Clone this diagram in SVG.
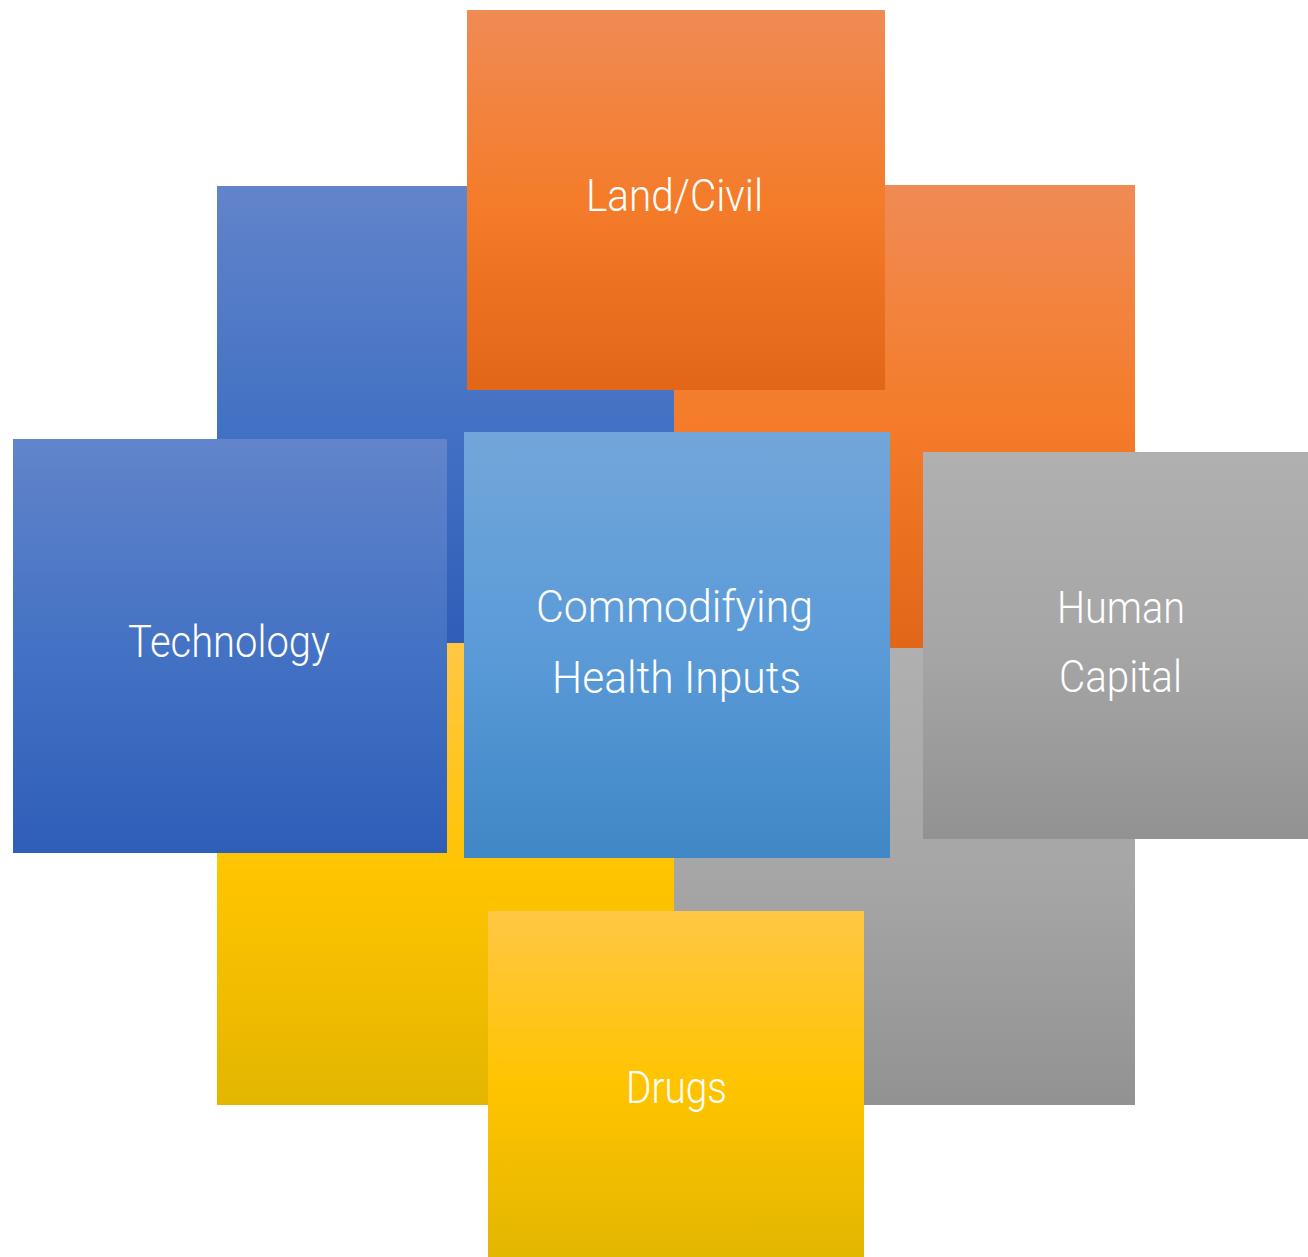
<svg xmlns="http://www.w3.org/2000/svg" width="1308" height="1257" viewBox="0 0 1308 1257">
  <defs>
    <linearGradient id="gBlue" x1="0" y1="0" x2="0" y2="1">
      <stop offset="0" stop-color="#6284CA"/>
      <stop offset="0.5" stop-color="#4472C4"/>
      <stop offset="1" stop-color="#2E5EB8"/>
    </linearGradient>
    <linearGradient id="gOrange" x1="0" y1="0" x2="0" y2="1">
      <stop offset="0" stop-color="#F08B55"/>
      <stop offset="0.5" stop-color="#F47C2A"/>
      <stop offset="1" stop-color="#E26618"/>
    </linearGradient>
    <linearGradient id="gGray" x1="0" y1="0" x2="0" y2="1">
      <stop offset="0" stop-color="#B0B0B0"/>
      <stop offset="0.5" stop-color="#A6A6A6"/>
      <stop offset="1" stop-color="#929292"/>
    </linearGradient>
    <linearGradient id="gYellow" x1="0" y1="0" x2="0" y2="1">
      <stop offset="0" stop-color="#FFC745"/>
      <stop offset="0.5" stop-color="#FFC400"/>
      <stop offset="1" stop-color="#E3B600"/>
    </linearGradient>
    <linearGradient id="gLight" x1="0" y1="0" x2="0" y2="1">
      <stop offset="0" stop-color="#72A6DA"/>
      <stop offset="0.5" stop-color="#5B9BD8"/>
      <stop offset="1" stop-color="#3F87C6"/>
    </linearGradient>
  </defs>
  <style>
    .lbl { font-family: Roboto, "Liberation Sans", Arial, sans-serif; font-weight: 300; font-size: 44px; fill: #FFFFFF; }
  </style>
  <rect width="1308" height="1257" fill="#FFFFFF"/>
  <g id="quadrants">
    <rect id="q-blue" x="217" y="186" width="457" height="457" fill="url(#gBlue)"/>
    <rect id="q-orange" x="674" y="185" width="461" height="463" fill="url(#gOrange)"/>
    <rect id="q-yellow" x="217" y="643" width="457" height="462" fill="url(#gYellow)"/>
    <rect id="q-gray" x="674" y="648" width="461" height="457" fill="url(#gGray)"/>
  </g>
  <g id="connectors"></g>
  <g id="node-land">
    <rect x="467" y="10" width="418" height="380" fill="url(#gOrange)"/>
    <text class="lbl" x="586" y="211" textLength="177" lengthAdjust="spacingAndGlyphs">Land/Civil</text>
  </g>
  <g id="node-technology">
    <rect x="13" y="439" width="434" height="414" fill="url(#gBlue)"/>
    <text class="lbl" x="128" y="657" textLength="202" lengthAdjust="spacingAndGlyphs">Technology</text>
  </g>
  <g id="node-center">
    <rect x="464" y="432" width="426" height="426" fill="url(#gLight)"/>
    <text class="lbl" x="536" y="622" textLength="277" lengthAdjust="spacingAndGlyphs">Commodifying</text>
    <text class="lbl" x="552" y="693" textLength="249" lengthAdjust="spacingAndGlyphs">Health Inputs</text>
  </g>
  <g id="node-human">
    <rect x="923" y="452" width="385" height="387" fill="url(#gGray)"/>
    <text class="lbl" x="1057" y="623" textLength="128" lengthAdjust="spacingAndGlyphs">Human</text>
    <text class="lbl" x="1059" y="692" textLength="123" lengthAdjust="spacingAndGlyphs">Capital</text>
  </g>
  <g id="node-drugs">
    <rect x="488" y="911" width="376" height="346" fill="url(#gYellow)"/>
    <text class="lbl" x="626" y="1103" textLength="101" lengthAdjust="spacingAndGlyphs">Drugs</text>
  </g>
</svg>
